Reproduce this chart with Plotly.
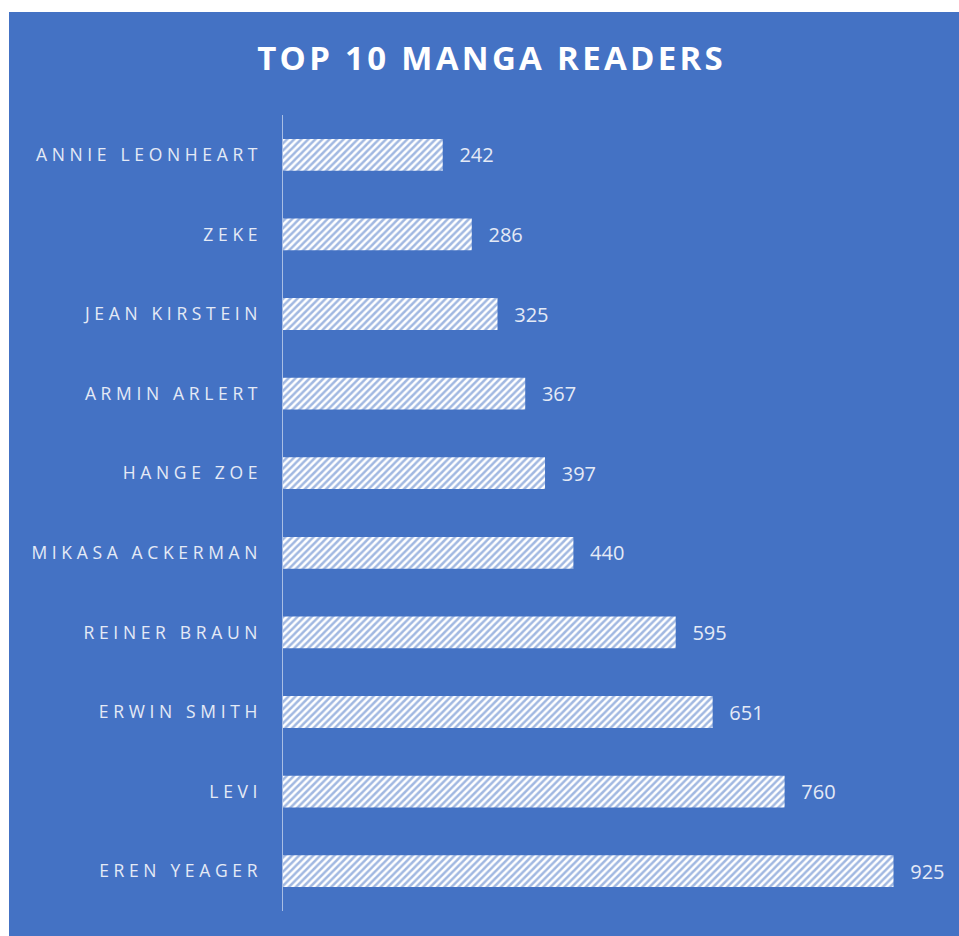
import plotly.graph_objects as go

categories = ["ANNIE LEONHEART", "ZEKE", "JEAN KIRSTEIN", "ARMIN ARLERT", "HANGE ZOE",
              "MIKASA ACKERMAN", "REINER BRAUN", "ERWIN SMITH", "LEVI", "EREN YEAGER"]
values = [242, 286, 325, 367, 397, 440, 595, 651, 760, 925]
title_text = "TOP 10 MANGA READERS"

BLUE = "#4472C4"
LABEL = "#E4EAF6"

THIN = "\u2009"
HAIR = "\u200a"


def spaced(s, sep):
    return sep.join(list(s))


tick_text = [spaced(c, THIN + HAIR) for c in categories]

W, H = 959, 936
L, R, T, B = 283, 16, 115, 25
pw, ph = W - L - R, H - T - B


def px_x(p):
    return (p - L) / pw


def px_y(p):
    return (H - B - p) / ph


fig = go.Figure()
fig.add_trace(go.Bar(
    y=categories,
    x=values,
    orientation="h",
    marker=dict(
        color="white",
        line=dict(width=0),
        pattern=dict(shape="/", fgcolor=BLUE, bgcolor="white", size=5, solidity=0.5),
    ),
    text=values,
    texttemplate="  " + THIN + "%{x}",
    textposition="outside",
    textfont=dict(family="Open Sans", size=20, color=LABEL),
    cliponaxis=False,
    hoverinfo="skip",
))

fig.update_layout(
    width=W, height=H,
    margin=dict(l=L, r=R, t=T, b=B, pad=0),
    paper_bgcolor="white",
    plot_bgcolor="rgba(0,0,0,0)",
    bargap=0.6,
    showlegend=False,
    title=dict(text="<b>" + spaced(title_text, HAIR) + "</b>", x=490 / W, xanchor="center",
               y=1 - 58 / H, yanchor="middle", xref="container", yref="container",
               font=dict(family="Open Sans", size=33, color="white")),
    shapes=[dict(type="rect", xref="paper", yref="paper",
                 x0=px_x(9), x1=px_x(W + 5), y0=px_y(H + 5), y1=px_y(12),
                 fillcolor=BLUE, line=dict(width=0), layer="below")],
    xaxis=dict(range=[0, 1000], visible=False, showgrid=False, zeroline=False),
    yaxis=dict(autorange="reversed", tickmode="array", tickvals=categories, ticktext=tick_text,
               tickfont=dict(family="Open Sans", size=17.5, color=LABEL),
               showline=True, linecolor="#A9BEE4", linewidth=1, showgrid=False,
               ticks="", ticklabelstandoff=21),
)

fig.write_html(
    "out.html",
    config={"displayModeBar": False},
    post_script="document.body.style.margin='0';document.body.style.overflow='hidden';",
)
